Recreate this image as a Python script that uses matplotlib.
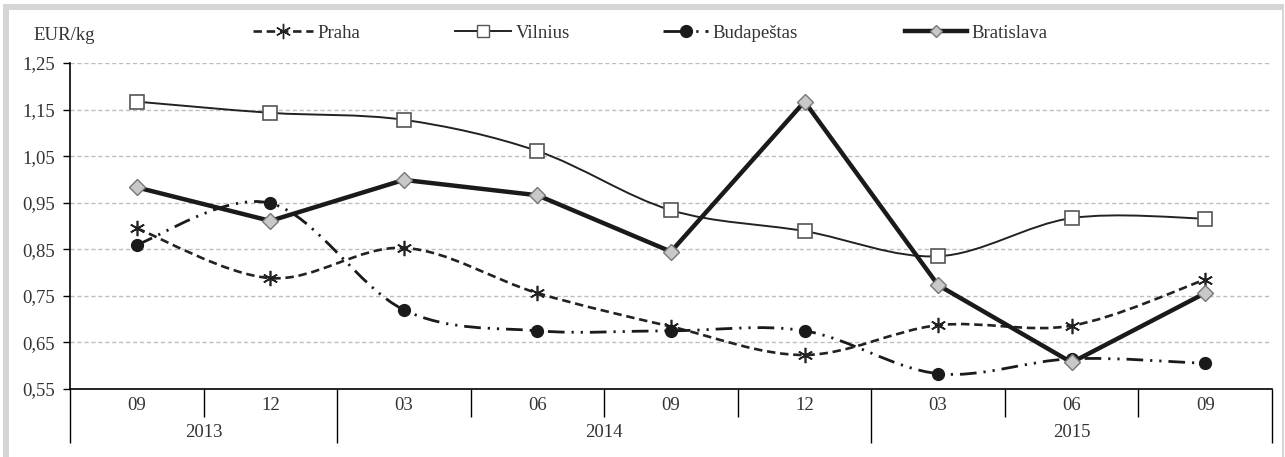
import numpy as np
import matplotlib.pyplot as plt
from matplotlib.path import Path
from matplotlib.patches import PathPatch, Rectangle
from matplotlib.lines import Line2D
from matplotlib.ticker import FuncFormatter

# Data (EUR/kg)
months = ['09', '12', '03', '06', '09', '12', '03', '06', '09']
years = ['2013', '2014', '2015']
year_centers = [0.5, 3.5, 7.0]

praha = [0.895, 0.788, 0.853, 0.756, 0.684, 0.623, 0.687, 0.686, 0.785]
vilnius = [1.167, 1.143, 1.128, 1.061, 0.934, 0.889, 0.835, 0.917, 0.916]
budapestas = [0.860, 0.949, 0.720, 0.675, 0.675, 0.675, 0.583, 0.615, 0.605]
bratislava = [0.983, 0.911, 0.999, 0.966, 0.845, 1.167, 0.773, 0.607, 0.756]

plt.rcParams['font.family'] = ['Liberation Serif', 'DejaVu Serif']
FS = 13.5
TXT = '#333333'


def smooth_path(x, y):
    # Excel-style smoothed line as cubic bezier segments
    pts = np.column_stack([x, y]).astype(float)
    n = len(pts)
    verts = [pts[0]]
    codes = [Path.MOVETO]
    for i in range(n - 1):
        p0 = pts[max(i - 1, 0)]
        p1 = pts[i]
        p2 = pts[i + 1]
        p3 = pts[min(i + 2, n - 1)]
        verts += [p1 + (p2 - p0) / 6, p2 - (p3 - p1) / 6, p2]
        codes += [Path.CURVE4] * 3
    return Path(verts, codes)


fig = plt.figure(figsize=(12.85, 4.57), dpi=100)
ax = fig.add_axes([70 / 1285, 1 - 389 / 457, 1202 / 1285, 326 / 457])
x = np.arange(len(months))

praha_ls = (0, (3.2, 1.8))
budap_ls = (0, (6, 2.5, 0.8, 2.5, 0.8, 2.5))

ax.add_patch(PathPatch(smooth_path(x, vilnius), fill=False, lw=1.4, color='#222222', zorder=3))
ax.add_patch(PathPatch(smooth_path(x, praha), fill=False, lw=1.9, color='#222222',
                       linestyle=praha_ls, zorder=3))
ax.add_patch(PathPatch(smooth_path(x, budapestas), fill=False, lw=2.0, color='#1a1a1a',
                       linestyle=budap_ls, zorder=3))
ax.plot(x, bratislava, color='#1a1a1a', lw=3.2, zorder=4)

ax.plot(x, vilnius, ls='none', marker='s', ms=9.5, mfc='white', mec='#555555', mew=1.2, zorder=5)
ax.plot(x, praha, ls='none', marker=(6, 2, 0), ms=11, mec='#222222', mew=1.2, zorder=5)
ax.plot(x, budapestas, ls='none', marker='o', ms=8.5, mfc='#1a1a1a', mec='#1a1a1a', zorder=5)
ax.plot(x, bratislava, ls='none', marker='D', ms=8, mfc='#c8c8c8', mec='#777777', mew=1.0, zorder=6)

# axes styling
ax.set_xlim(-0.5, 8.5)
ax.set_ylim(0.55, 1.25)
ax.set_yticks(np.arange(0.55, 1.2501, 0.1))
ax.yaxis.set_major_formatter(FuncFormatter(lambda v, p: f'{v:.2f}'.replace('.', ',')))
ax.tick_params(axis='y', length=5, width=1, direction='out', labelsize=FS, pad=6, labelcolor=TXT)
ax.yaxis.grid(True, color='#bdbdbd', linestyle=(0, (3, 2)), lw=1)
ax.set_axisbelow(True)
for s in ['top', 'right']:
    ax.spines[s].set_visible(False)
for s in ['left', 'bottom']:
    ax.spines[s].set_linewidth(1.2)

ax.set_xticks([-0.5, 1.5, 5.5, 8.5])
ax.set_xticks([0.5, 2.5, 3.5, 4.5, 6.5, 7.5], minor=True)
ax.set_xticklabels([])
ax.tick_params(axis='x', which='major', length=39, width=1, direction='out')
ax.tick_params(axis='x', which='minor', length=20, width=1, direction='out')

for i, m in enumerate(months):
    ax.text(i, -0.05, m, transform=ax.get_xaxis_transform(), ha='center', va='center',
            fontsize=FS, color=TXT)
for c, yname in zip(year_centers, years):
    ax.text(c, -0.133, yname, transform=ax.get_xaxis_transform(), ha='center', va='center',
            fontsize=FS, color=TXT)

fig.text(33 / 1285, 1 - 35 / 457, 'EUR/kg', ha='left', va='center', fontsize=FS, color=TXT)

# legend entries placed one by one along the top
handles = [
    Line2D([], [], color='#222222', lw=1.9, linestyle=praha_ls, marker=(6, 2, 0), ms=11, mec='#222222'),
    Line2D([], [], color='#222222', lw=1.4, marker='s', ms=9, mfc='white', mec='#555555'),
    Line2D([], [], color='#1a1a1a', lw=2.0, linestyle=budap_ls, marker='o', ms=8.5),
    Line2D([], [], color='#1a1a1a', lw=3.2, marker='D', ms=6, mfc='#c8c8c8', mec='#777777'),
]
names = ['Praha', 'Vilnius', 'Budapeštas', 'Bratislava']
leg_x = [253, 455, 663, 905]
leg_len = [3.2, 3.0, 2.4, 3.3]
for h, nm, lx, hl in zip(handles, names, leg_x, leg_len):
    leg = fig.legend([h], [nm], loc='center left', bbox_to_anchor=(lx / 1285, 1 - 33 / 457),
                     frameon=False, fontsize=FS, handlelength=hl, handletextpad=0.25,
                     borderpad=0, borderaxespad=0)
    leg.get_texts()[0].set_color(TXT)

# grey frame around the figure
fig.add_artist(Rectangle((3 / 1285, 0), 6 / 1285, 1 - 4 / 457, transform=fig.transFigure,
                         color='#d6d6d6', lw=0))
fig.add_artist(Rectangle((3 / 1285, 1 - 10 / 457), 1280 / 1285, 6 / 457, transform=fig.transFigure,
                         color='#d6d6d6', lw=0))
fig.add_artist(Rectangle((1282 / 1285, 0), 1.5 / 1285, 1 - 4 / 457, transform=fig.transFigure,
                         color='#d6d6d6', lw=0))

fig.savefig('out.png', dpi=100)
